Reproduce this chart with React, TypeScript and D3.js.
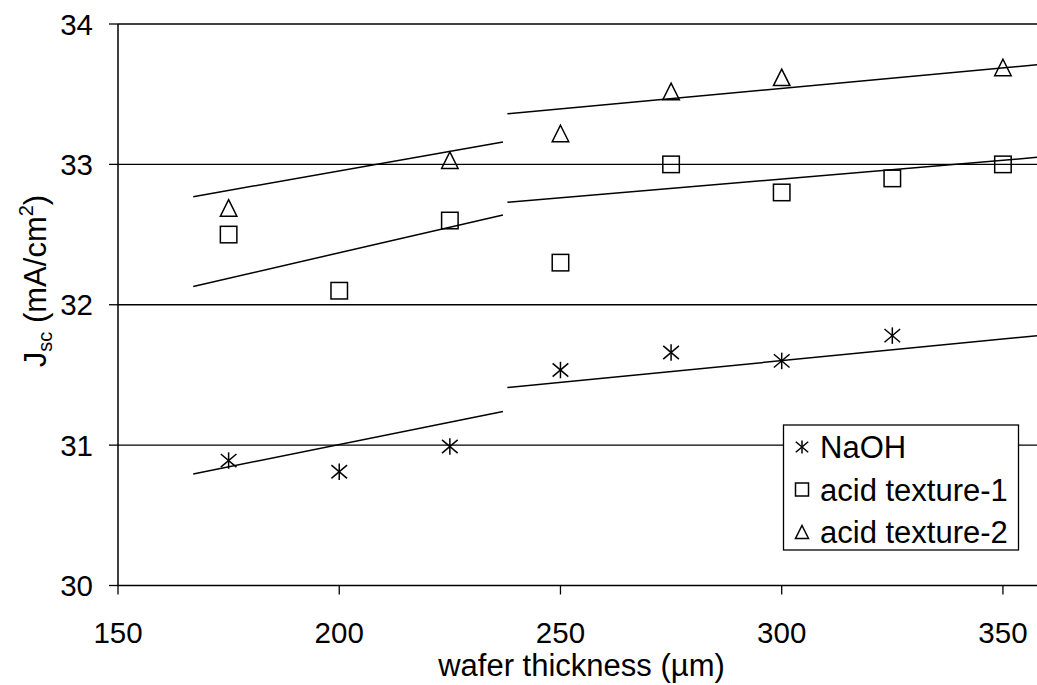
import React from "react";
import * as d3 from "d3";

// wafer thickness (µm) and Jsc (mA/cm²)
const naohX = [175, 200, 225, 250, 275, 300, 325];
const naohY = [30.89, 30.81, 30.99, 31.535, 31.66, 31.6, 31.78];

const acid1X = [175, 200, 225, 250, 275, 300, 325, 350];
const acid1Y = [32.5, 32.1, 32.6, 32.3, 33.0, 32.8, 32.9, 33.0];

const acid2X = [175, 225, 250, 275, 300, 350];
const acid2Y = [32.69, 33.03, 33.22, 33.52, 33.62, 33.69];

// linear fits, split in two ranges (end points)
const naohFit = [
  [[167, 30.795], [237, 31.24]],
  [[238, 31.41], [357.7, 31.78]],
];
const acid1Fit = [
  [[167, 32.13], [237, 32.64]],
  [[238, 32.73], [357.7, 33.05]],
];
const acid2Fit = [
  [[167, 32.77], [237, 33.16]],
  [[238, 33.36], [357.7, 33.71]],
];

const xTicks = [150, 200, 250, 300, 350];
const yTicks = [30, 31, 32, 33, 34];
const legendLabels = ["NaOH", "acid texture-1", "acid texture-2"];

const W = 1037;
const H = 685;
const FONT = "'Liberation Sans', Arial, sans-serif";

const x = d3.scaleLinear().domain([150, 357.7]).range([118, 1037]);
const y = d3.scaleLinear().domain([30, 34]).range([585.5, 24]);
const line = d3.line<number[]>().x((d) => x(d[0])).y((d) => y(d[1]));

type Kind = "star" | "square" | "triangle";

const Marker = ({ kind, cx, cy, s }: { kind: Kind; cx: number; cy: number; s: number }) => {
  const h = s / 2;
  if (kind === "square") {
    return <rect x={cx - h} y={cy - h} width={s} height={s} fill="none" stroke="#000" strokeWidth={1.5} />;
  }
  if (kind === "triangle") {
    const p = `${cx},${cy - h} ${cx + h},${cy + h} ${cx - h},${cy + h}`;
    return <polygon points={p} fill="none" stroke="#000" strokeWidth={1.5} />;
  }
  // asterisk: vertical bar plus an X
  const dx = h * 0.95;
  const dy = h * 0.8;
  return (
    <g stroke="#000" strokeWidth={1.5}>
      <line x1={cx} y1={cy - h} x2={cx} y2={cy + h} />
      <line x1={cx - dx} y1={cy - dy} x2={cx + dx} y2={cy + dy} />
      <line x1={cx - dx} y1={cy + dy} x2={cx + dx} y2={cy - dy} />
    </g>
  );
};

const series: { xs: number[]; ys: number[]; fit: number[][][]; kind: Kind }[] = [
  { xs: naohX, ys: naohY, fit: naohFit, kind: "star" },
  { xs: acid1X, ys: acid1Y, fit: acid1Fit, kind: "square" },
  { xs: acid2X, ys: acid2Y, fit: acid2Fit, kind: "triangle" },
];

export default function App() {
  const [x0, x1] = x.range();
  const [y0, y1] = y.range();
  return (
    <svg width={W} height={H} style={{ position: "absolute", left: 0, top: 0, background: "#fff" }} fontFamily={FONT}>
      {/* gridlines */}
      {yTicks.filter((t) => t !== 30).map((t) => (
        <line key={t} x1={x0} x2={x1} y1={y(t)} y2={y(t)} stroke="#000" strokeWidth={1.3} />
      ))}
      {/* axes */}
      <line x1={x0} x2={x1} y1={y0} y2={y0} stroke="#000" strokeWidth={1.5} />
      <line x1={x0} x2={x0} y1={y0} y2={y1} stroke="#000" strokeWidth={1.5} />
      {yTicks.map((t) => (
        <g key={t}>
          <line x1={x0 - 9} x2={x0} y1={y(t)} y2={y(t)} stroke="#000" strokeWidth={1.3} />
          <text x={93} y={y(t)} dy="0.36em" textAnchor="end" fontSize={29.5}>{t}</text>
        </g>
      ))}
      {xTicks.map((t) => (
        <g key={t}>
          <line x1={x(t)} x2={x(t)} y1={y0} y2={y0 + 9} stroke="#000" strokeWidth={1.3} />
          <text x={x(t)} y={643} textAnchor="middle" fontSize={29.5}>{t}</text>
        </g>
      ))}
      {/* fits */}
      {series.map((s, i) =>
        s.fit.map((seg, j) => (
          <path key={`${i}-${j}`} d={line(seg) || ""} fill="none" stroke="#000" strokeWidth={1.5} />
        ))
      )}
      {/* points */}
      {series.map((s, i) =>
        s.xs.map((v, j) => <Marker key={`${i}-${j}`} kind={s.kind} cx={x(v)} cy={y(s.ys[j])} s={16.5} />)
      )}
      {/* axis titles */}
      <text x={(438 + 725) / 2} y={676} textAnchor="middle" fontSize={31}>wafer thickness (µm)</text>
      <text transform="translate(46,281) rotate(-90)" textAnchor="middle" fontSize={31}>
        J<tspan fontSize={20} dy={6}>sc</tspan>
        <tspan dy={-6}> (mA/cm</tspan>
        <tspan fontSize={20} dy={-13}>2</tspan>
        <tspan dy={13}>)</tspan>
      </text>
      {/* legend */}
      <rect x={783.5} y={425} width={235} height={125} fill="#fff" stroke="#000" strokeWidth={1.3} />
      {legendLabels.map((l, i) => (
        <g key={l}>
          <Marker kind={series[i].kind} cx={802} cy={458 + i * 42.5 - 11} s={13} />
          <text x={820} y={458 + i * 42.5} fontSize={31}>{l}</text>
        </g>
      ))}
    </svg>
  );
}
